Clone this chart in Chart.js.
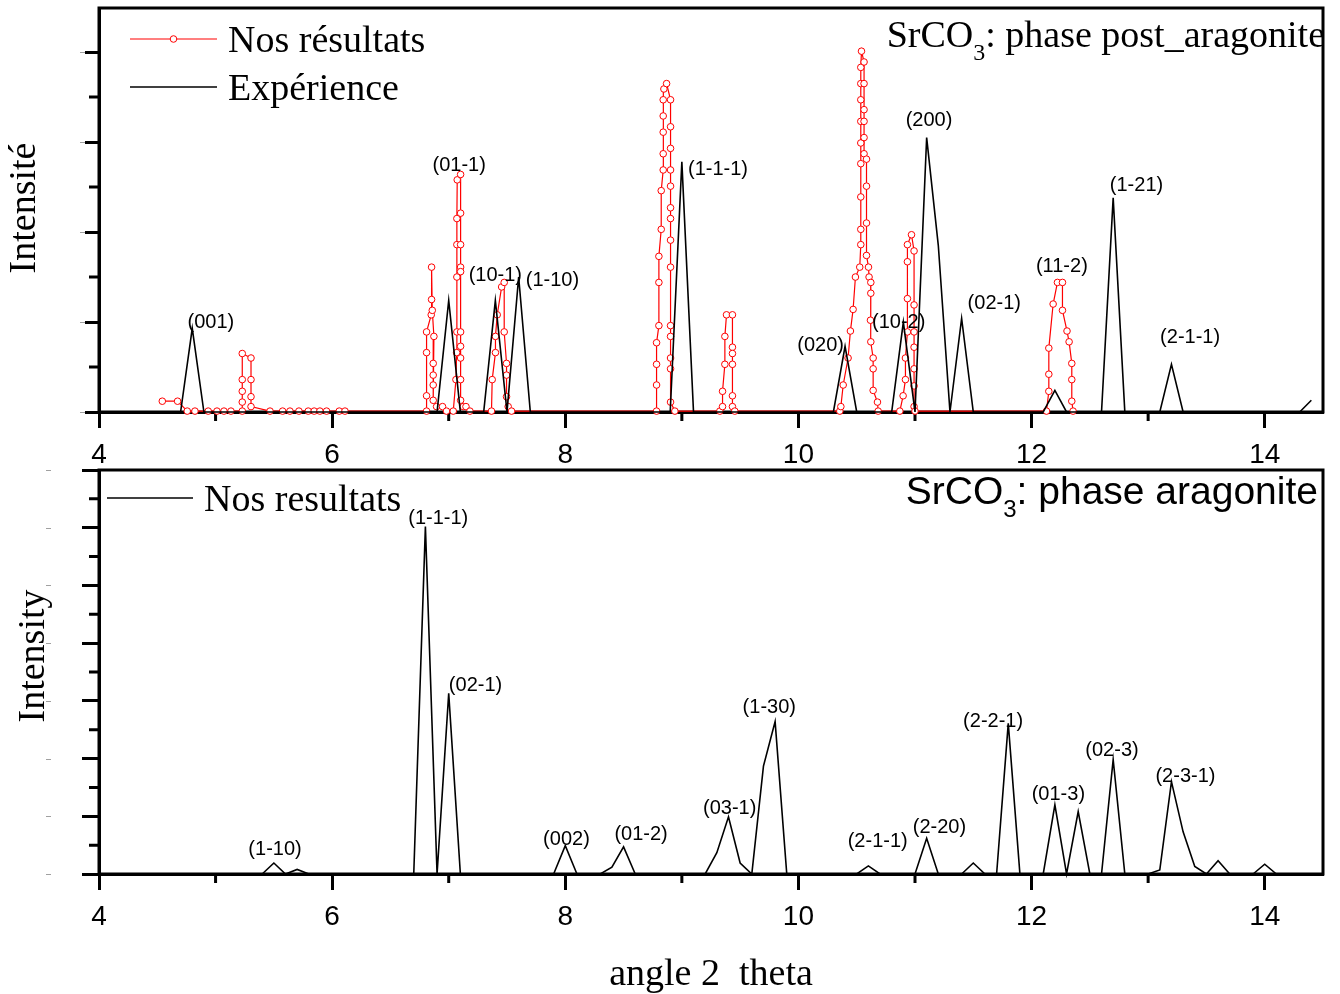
<!DOCTYPE html>
<html>
<head>
<meta charset="utf-8">
<script src="https://cdn.jsdelivr.net/npm/chart.js@4.4.1/dist/chart.umd.min.js"></script>
<style>
  html, body { margin: 0; padding: 0; background: #fff; }
  #wrap { position: relative; width: 1340px; height: 994px; }
  canvas { position: absolute; left: 0; }
  #topChart { top: 0; }
  #bottomChart { top: 462px; }
</style>
</head>
<body>
<div id="wrap">
  <canvas id="topChart" width="1340" height="470"></canvas>
  <canvas id="bottomChart" width="1340" height="532"></canvas>
</div>
<script>
const SERIF = '"Liberation Serif", "Times New Roman", serif';
const SANS = '"Liberation Sans", Arial, sans-serif';

// shared 2-theta axis
const xMajor = [4, 6, 8, 10, 12, 14];
const xMinor = [5, 7, 9, 11, 13];

// ---- post-aragonite phase ----
const topYMajor = [0, 1, 2, 3, 4];
const topYMinor = [0.5, 1.5, 2.5, 3.5];

// calculated pattern (Nos résultats)
const calcX = [
  4.543, 4.674, 4.757, 4.823, 4.937, 5.012, 5.072, 5.132,
  5.229, 5.229, 5.229, 5.229, 5.229, 5.304, 5.304, 5.304, 5.304,
  5.467, 5.575, 5.638, 5.715, 5.795, 5.846, 5.895, 5.952, 6.061, 6.110,
  6.810, 6.810, 6.810, 6.810, 6.850, 6.853, 6.853, 6.859, 6.873, 6.867, 6.867, 6.867, 6.867, 6.896, 6.947, 6.981, 7.039,
  7.062, 7.068, 7.070, 7.070, 7.070, 7.070, 7.073, 7.102, 7.102, 7.102, 7.102, 7.102, 7.102, 7.102, 7.102, 7.102, 7.102, 7.125, 7.148, 7.182,
  7.367, 7.373, 7.401, 7.401, 7.416, 7.454, 7.476, 7.476, 7.496, 7.496, 7.496, 7.510, 7.539,
  8.783, 8.783, 8.783, 8.783, 8.803, 8.803, 8.803, 8.823, 8.823, 8.840, 8.840, 8.840, 8.840, 8.840, 8.846, 8.869,
  8.903, 8.903, 8.903, 8.903, 8.903, 8.903, 8.903, 8.903, 8.903, 8.903, 8.903, 8.903, 8.903, 8.903, 8.940,
  9.326, 9.349, 9.349, 9.369, 9.369, 9.383, 9.434, 9.434, 9.434, 9.434, 9.434, 9.434, 9.454,
  10.355, 10.364, 10.384, 10.426, 10.446, 10.469, 10.489, 10.526, 10.535, 10.535, 10.535, 10.535, 10.535, 10.535, 10.535, 10.535, 10.535, 10.541,
  10.563, 10.563, 10.563, 10.563, 10.563, 10.563, 10.584, 10.584, 10.584, 10.584, 10.601, 10.606, 10.621, 10.621, 10.618, 10.621, 10.641, 10.641, 10.641, 10.678, 10.684,
  10.870, 10.898, 10.918, 10.918, 10.935, 10.935, 10.935, 10.935, 10.970, 10.992, 10.992, 10.992, 10.992, 10.992, 10.992, 10.992, 11.000,
  12.128, 12.148, 12.148, 12.148, 12.185, 12.222, 12.265, 12.265, 12.304, 12.322, 12.345, 12.345, 12.345, 12.356
];
const calcY = [
  0.12, 0.12, 0.01, 0.01, 0.01, 0.01, 0.01, 0.01,
  0.01, 0.11, 0.23, 0.36, 0.65, 0.60, 0.36, 0.17, 0.06,
  0.01, 0.01, 0.01, 0.01, 0.01, 0.01, 0.01, 0.01, 0.01, 0.01,
  0.01, 0.18, 0.66, 0.89, 1.08, 1.25, 1.61, 1.13, 0.84, 0.54, 0.41, 0.30, 0.13, 0.06, 0.06, 0.01, 0.01,
  0.36, 0.66, 0.89, 1.50, 1.86, 2.15, 2.58, 2.64, 2.21, 1.86, 1.61, 1.56, 0.89, 0.73, 0.60, 0.36, 0.13, 0.06, 0.06, 0.01,
  0.01, 0.36, 0.66, 0.84, 1.08, 1.39, 1.44, 0.89, 0.54, 0.41, 0.17, 0.06, 0.01,
  0.01, 0.30, 0.53, 0.77, 0.96, 1.44, 1.73, 2.03, 2.46, 2.69, 2.87, 3.11, 3.29, 3.47, 3.59, 3.65,
  3.47, 3.17, 2.93, 2.69, 2.51, 2.27, 2.15, 1.91, 1.61, 0.96, 0.84, 0.60, 0.48, 0.11, 0.01,
  0.01, 0.06, 0.23, 0.53, 0.84, 1.08, 1.08, 0.72, 0.65, 0.53, 0.18, 0.06, 0.01,
  0.01, 0.06, 0.30, 0.60, 0.90, 1.14, 1.50, 1.61, 1.86, 2.03, 2.39, 2.76, 2.99, 3.23, 3.47, 3.65, 3.83, 4.01,
  3.89, 3.65, 3.36, 3.23, 3.05, 2.87, 2.81, 2.51, 2.10, 1.74, 1.61, 1.50, 1.44, 1.32, 1.02, 0.78, 0.60, 0.48, 0.24, 0.11, 0.01,
  0.01, 0.18, 0.36, 0.60, 0.89, 1.26, 1.67, 1.86, 1.97, 1.79, 1.19, 0.89, 0.72, 0.48, 0.29, 0.06, 0.01,
  0.01, 0.23, 0.42, 0.71, 1.20, 1.44, 1.44, 1.13, 0.90, 0.78, 0.54, 0.36, 0.12, 0.01
];

// measured pattern (Expérience)
const expX = [4.0, 4.7, 4.8, 4.9, 6.9, 7.0, 7.1, 7.3, 7.4, 7.5, 7.6, 7.7, 8.9, 9.0, 9.1,
  10.3, 10.4, 10.5, 10.8, 10.9, 11.0, 11.1, 11.2, 11.3, 11.4, 11.5,
  12.1, 12.2, 12.3, 12.6, 12.7, 12.8, 13.1, 13.2, 13.3, 14.3, 14.4];
const expY = [0, 0, 0.93, 0, 0, 1.24, 0, 0, 1.24, 0, 1.50, 0, 0, 2.78, 0,
  0, 0.73, 0, 0, 1.00, 0, 3.05, 1.85, 0, 1.04, 0,
  0, 0.24, 0, 0, 2.38, 0, 0, 0.53, 0, 0, 0.13];

const topPeakNames = ['(001)', '(01-1)', '(10-1)', '(1-10)', '(1-1-1)', '(020)', '(10-2)', '(200)', '(02-1)', '(11-2)', '(1-21)', '(2-1-1)'];
const topPeakX = [4.96, 7.09, 7.40, 7.89, 9.31, 10.19, 10.86, 11.12, 11.68, 12.26, 12.90, 13.36];
const topPeakY = [0.99, 2.74, 1.52, 1.46, 2.70, 0.74, 1.00, 3.24, 1.21, 1.62, 2.52, 0.83];

// ---- aragonite phase ----
const botYMajor = [0, 1, 2, 3, 4, 5, 6, 7];
const botYMinor = [0.5, 1.5, 2.5, 3.5, 4.5, 5.5, 6.5];

const aragX = [4.0, 5.4, 5.5, 5.6, 5.7, 5.8, 6.7, 6.8, 6.9, 7.0, 7.1, 7.9, 8.0, 8.1, 8.3, 8.4, 8.5, 8.6,
  9.2, 9.3, 9.4, 9.5, 9.6, 9.7, 9.8, 9.9, 10.5, 10.6, 10.7, 11.0, 11.1, 11.2, 11.4, 11.5, 11.6,
  11.7, 11.8, 11.9, 12.1, 12.2, 12.3, 12.4, 12.5, 12.6, 12.7, 12.8, 13.0, 13.1, 13.2, 13.3, 13.4, 13.5,
  13.6, 13.7, 13.9, 14.0, 14.1, 14.5];
const aragY = [0, 0, 0.19, 0, 0.08, 0, 0, 6.02, 0, 3.13, 0, 0, 0.49, 0, 0, 0.12, 0.47, 0,
  0, 0.37, 0.99, 0.19, 0, 1.87, 2.64, 0, 0, 0.14, 0, 0, 0.62, 0, 0, 0.19, 0,
  0, 2.61, 0, 0, 1.20, 0, 1.08, 0, 0, 1.98, 0, 0, 0.07, 1.60, 0.73, 0.13, 0,
  0.23, 0, 0, 0.17, 0, 0];

const botPeakNames = ['(1-10)', '(1-1-1)', '(02-1)', '(002)', '(01-2)', '(03-1)', '(1-30)', '(2-1-1)', '(2-20)', '(2-2-1)', '(01-3)', '(02-3)', '(2-3-1)'];
const botPeakX = [5.51, 6.91, 7.23, 8.01, 8.65, 9.41, 9.75, 10.68, 11.21, 11.67, 12.23, 12.69, 13.32];
const botPeakY = [0.43, 6.16, 3.26, 0.60, 0.68, 1.14, 2.89, 0.56, 0.81, 2.65, 1.38, 2.14, 1.69];

const toPoints = (xs, ys) => xs.map((x, i) => ({ x: x, y: ys[i] }));

// frame, minor ticks, y tick dashes, legend, title and hkl labels
const decorations = {
  id: 'decorations',
  beforeDatasetsDraw(chart, args, opts) {
    const { ctx, chartArea: a, scales: { x, y } } = chart;
    ctx.save();
    ctx.strokeStyle = '#000';
    ctx.lineWidth = 3;
    ctx.strokeRect(a.left, a.top, a.right - a.left, a.bottom - a.top);
    ctx.beginPath();
    xMinor.forEach(v => {
      const px = x.getPixelForValue(v);
      ctx.moveTo(px, a.bottom);
      ctx.lineTo(px, a.bottom + 9);
    });
    opts.minorY.forEach(v => {
      const py = y.getPixelForValue(v);
      ctx.moveTo(a.left, py);
      ctx.lineTo(a.left - 10, py);
    });
    ctx.stroke();

    // faint dash where the intensity values would be
    ctx.strokeStyle = '#a0a0a0';
    ctx.lineWidth = 1;
    ctx.beginPath();
    opts.majorY.forEach(v => {
      const py = Math.round(y.getPixelForValue(v)) + 0.5;
      ctx.moveTo(opts.dashX, py);
      ctx.lineTo(opts.dashX + 5, py);
    });
    ctx.stroke();
    ctx.restore();
  },
  afterDatasetsDraw(chart, args, opts) {
    const { ctx, scales: { x, y } } = chart;
    ctx.save();
    ctx.fillStyle = '#000';

    // hkl labels
    ctx.font = '20px ' + SANS;
    ctx.textAlign = 'center';
    ctx.textBaseline = 'middle';
    opts.peaks.names.forEach((t, i) => {
      ctx.fillText(t, x.getPixelForValue(opts.peaks.x[i]), y.getPixelForValue(opts.peaks.y[i]));
    });

    // legend
    const lg = opts.legend;
    ctx.textAlign = 'left';
    ctx.textBaseline = 'alphabetic';
    ctx.font = '38px ' + SERIF;
    lg.order.forEach((di, row) => {
      const ds = chart.data.datasets[di];
      const ly = lg.y + row * 48;
      ctx.strokeStyle = ds.borderColor;
      ctx.lineWidth = ds.borderWidth;
      ctx.beginPath();
      ctx.moveTo(lg.x0, ly);
      ctx.lineTo(lg.x1, ly);
      ctx.stroke();
      if (ds.pointRadius > 0) {
        ctx.beginPath();
        ctx.arc((lg.x0 + lg.x1) / 2, ly, ds.pointRadius, 0, Math.PI * 2);
        ctx.fillStyle = ds.pointBackgroundColor;
        ctx.fill();
        ctx.lineWidth = ds.pointBorderWidth;
        ctx.stroke();
      }
      ctx.fillStyle = '#000';
      ctx.fillText(ds.label, lg.x1 + 11, ly + 13);
    });

    // phase title with subscript
    const t = opts.title;
    const subSize = Math.round(t.size * 0.62);
    ctx.font = t.size + 'px ' + t.family;
    const w1 = ctx.measureText(t.pre).width;
    const w3 = ctx.measureText(t.post).width;
    ctx.font = subSize + 'px ' + t.family;
    const w2 = ctx.measureText(t.sub).width;
    const tx = t.right - (w1 + w2 + w3);
    ctx.font = t.size + 'px ' + t.family;
    ctx.fillText(t.pre, tx, t.base);
    ctx.fillText(t.post, tx + w1 + w2, t.base);
    ctx.font = subSize + 'px ' + t.family;
    ctx.fillText(t.sub, tx + w1, t.base + 13);

    // rotated intensity title
    const yt = opts.yTitle;
    ctx.translate(yt.x, yt.y);
    ctx.rotate(-Math.PI / 2);
    ctx.textAlign = 'center';
    ctx.textBaseline = 'middle';
    ctx.font = '38px ' + SERIF;
    ctx.fillText(yt.text, 0, 0);
    ctx.restore();
  }
};

function makeOptions(cfg) {
  return {
    responsive: false,
    animation: false,
    layout: { padding: { top: 8, right: 17, left: 0, bottom: 0 } },
    plugins: {
      legend: { display: false },
      tooltip: { enabled: false },
      decorations: cfg.deco
    },
    scales: {
      x: {
        type: 'linear',
        min: 4,
        max: 14.5,
        afterBuildTicks: s => { s.ticks = xMajor.map(v => ({ value: v })); },
        afterFit: s => { s.height = cfg.xHeight; },
        grid: { drawOnChartArea: false, tickLength: 16, tickWidth: 3, tickColor: '#000' },
        border: { width: 3, color: '#000' },
        ticks: { color: '#000', font: { family: SANS, size: 28 }, padding: 10, maxRotation: 0, autoSkip: false },
        title: cfg.xTitle || { display: false }
      },
      y: {
        type: 'linear',
        min: 0,
        max: cfg.yMax,
        afterBuildTicks: s => { s.ticks = cfg.deco.majorY.map(v => ({ value: v })); },
        afterFit: s => { s.width = 99; },
        grid: { drawOnChartArea: false, tickLength: cfg.yTick, tickWidth: 3, tickColor: '#000' },
        border: { width: 3, color: '#000' },
        ticks: { display: false }
      }
    }
  };
}

new Chart(document.getElementById('topChart'), {
  type: 'line',
  data: {
    datasets: [
      {
        label: 'Nos résultats',
        data: toPoints(calcX, calcY),
        borderColor: '#ff0000',
        borderWidth: 1.2,
        pointRadius: 3.3,
        pointBorderWidth: 1,
        pointBackgroundColor: '#ffffff',
        pointBorderColor: '#ff0000',
        tension: 0,
        order: 1,
        clip: { left: 8, top: 8, right: 0, bottom: 8 }
      },
      {
        label: 'Expérience',
        data: toPoints(expX, expY),
        borderColor: '#000000',
        borderWidth: 1.6,
        pointRadius: 0,
        tension: 0,
        order: 0,
        clip: { left: 8, top: 8, right: 0, bottom: 8 }
      }
    ]
  },
  options: makeOptions({
    yMax: 4.49,
    yTick: 14,
    xHeight: 58,
    deco: {
      majorY: topYMajor,
      minorY: topYMinor,
      dashX: 80,
      peaks: { names: topPeakNames, x: topPeakX, y: topPeakY },
      legend: { order: [0, 1], x0: 130, x1: 217, y: 39 },
      title: { pre: 'SrCO', sub: '3', post: ': phase post_aragonite', family: SERIF, size: 38, right: 1325, base: 47 },
      yTitle: { text: 'Intensité', x: 25, y: 208 }
    }
  }),
  plugins: [decorations]
});

new Chart(document.getElementById('bottomChart'), {
  type: 'line',
  data: {
    datasets: [
      {
        label: 'Nos resultats',
        data: toPoints(aragX, aragY),
        borderColor: '#000000',
        borderWidth: 1.6,
        pointRadius: 0,
        tension: 0,
        clip: { left: 8, top: 8, right: 0, bottom: 8 }
      }
    ]
  },
  options: makeOptions({
    yMax: 7,
    yTick: 17,
    xHeight: 120,
    xTitle: { display: true, text: 'angle 2  theta', color: '#000', font: { family: SERIF, size: 38, lineHeight: 1.0 }, padding: { top: 0, bottom: 0 } },
    deco: {
      majorY: botYMajor,
      minorY: botYMinor,
      dashX: 46,
      peaks: { names: botPeakNames, x: botPeakX, y: botPeakY },
      legend: { order: [0], x0: 107, x1: 193, y: 36 },
      title: { pre: 'SrCO', sub: '3', post: ': phase aragonite', family: SANS, size: 39, right: 1318, base: 42 },
      yTitle: { text: 'Intensity', x: 34, y: 194 }
    }
  }),
  plugins: [decorations]
});
</script>
</body>
</html>
